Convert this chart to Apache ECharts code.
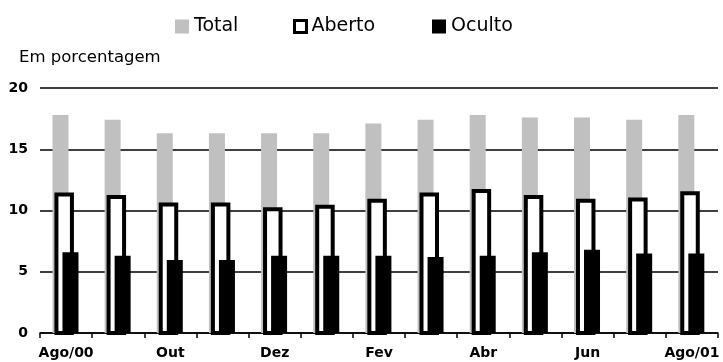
<!DOCTYPE html>
<html>
<head>
<meta charset="utf-8">
<script src="https://cdn.jsdelivr.net/npm/echarts@6/dist/echarts.min.js"></script>
<style>
  html, body { margin: 0; padding: 0; background: #fff; }
  #chart { width: 723px; height: 362px; }
</style>
</head>
<body>
<div id="chart"></div>
<script>
// Monthly series, Aug/2000 to Aug/2001 (percent)
const months = ['Ago/00', 'Set', 'Out', 'Nov', 'Dez', 'Jan', 'Fev', 'Mar', 'Abr', 'Mai', 'Jun', 'Jul', 'Ago/01'];
const total  = [17.8, 17.4, 16.3, 16.3, 16.3, 16.3, 17.1, 17.4, 17.8, 17.6, 17.6, 17.4, 17.8];
const aberto = [11.3, 11.1, 10.5, 10.5, 10.1, 10.3, 10.8, 11.3, 11.6, 11.1, 10.8, 10.9, 11.4];
const oculto = [6.6, 6.3, 5.95, 5.95, 6.3, 6.3, 6.3, 6.2, 6.3, 6.6, 6.8, 6.5, 6.5];
const yTicks = { min: 0, max: 20, interval: 5 };

const FONT = 'DejaVu Sans';

// Overlapping bars: each series is shifted a few pixels inside its month band
function overlapBar(name, values, offset, width, style) {
  return {
    name: name,
    type: 'custom',
    itemStyle: { color: style.fill, borderColor: style.stroke || style.fill, borderWidth: style.lineWidth || 0 },
    encode: { x: 0, y: 1 },
    data: values.map((v, i) => [i, v]),
    renderItem: function (params, api) {
      const i = api.value(0);
      const v = api.value(1);
      const base = api.coord([i, 0]);
      const top = api.coord([i, v]);
      return {
        type: 'rect',
        shape: { x: base[0] + offset - width / 2, y: top[1], width: width, height: base[1] - top[1] },
        style: Object.assign({}, style)
      };
    }
  };
}

const legendBase = {
  itemWidth: 14, itemHeight: 14, top: 12, itemGap: 0,
  textStyle: { fontFamily: FONT, fontSize: 19, color: '#000' },
  selectedMode: false
};

const chart = echarts.init(document.getElementById('chart'), null, { renderer: 'canvas' });
chart.setOption({
  animation: false,
  backgroundColor: '#fff',
  title: {
    text: 'Em porcentagem', left: 14, top: 44,
    textStyle: { fontFamily: FONT, fontSize: 16.5, fontWeight: 'normal', color: '#000' }
  },
  legend: [
    Object.assign({}, legendBase, { left: 170, data: [{ name: 'Total', icon: 'rect', itemStyle: { color: '#c0c0c0', borderWidth: 0 } }] }),
    Object.assign({}, legendBase, { left: 288, itemWidth: 12, itemHeight: 12,
      data: [{ name: 'Aberto', icon: 'rect', itemStyle: { color: '#fff', borderColor: '#000', borderWidth: 3 } }] }),
    Object.assign({}, legendBase, { left: 427, data: [{ name: 'Oculto', icon: 'rect', itemStyle: { color: '#000', borderWidth: 0 } }] })
  ],
  grid: { left: 40, right: 5, top: 88, bottom: 29, containLabel: false },
  xAxis: {
    type: 'category',
    data: months,
    boundaryGap: true,
    axisLine: { show: true, lineStyle: { color: '#000', width: 1.5 } },
    axisTick: { show: true, interval: 0, length: 5, lineStyle: { color: '#000', width: 1.5 } },
    axisLabel: { interval: 1, margin: 13, fontFamily: FONT, fontSize: 14, fontWeight: 'bold', color: '#000' },
    splitLine: { show: false }
  },
  yAxis: {
    type: 'value',
    min: yTicks.min, max: yTicks.max, interval: yTicks.interval,
    axisLine: { show: false },
    axisTick: { show: false },
    axisLabel: { margin: 12, fontFamily: FONT, fontSize: 14, fontWeight: 'bold', color: '#000' },
    splitLine: { show: true, lineStyle: { color: '#000', width: 1.5 } }
  },
  series: [
    overlapBar('Total', total, -5.6, 16, { fill: '#c0c0c0' }),
    overlapBar('Aberto', aberto, -1.9, 15.5, { fill: '#fff', stroke: '#000', lineWidth: 4 }),
    overlapBar('Oculto', oculto, 4.4, 16, { fill: '#000' })
  ]
});
</script>
</body>
</html>
